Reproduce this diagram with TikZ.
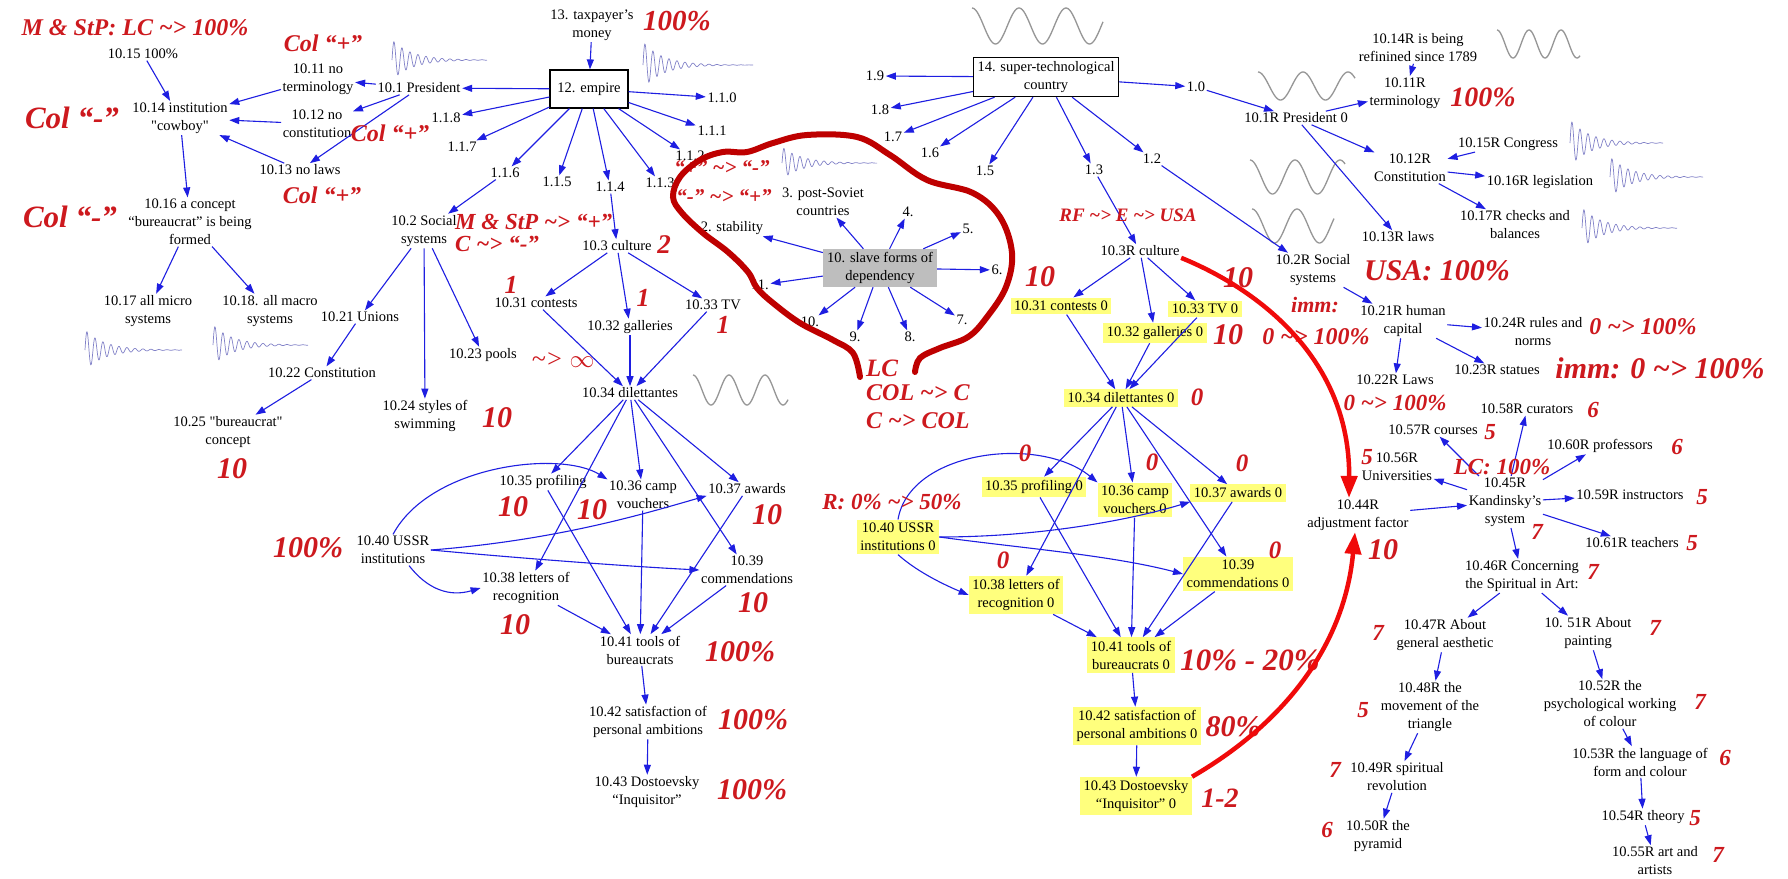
\documentclass[tikz,border=0pt]{standalone}
\usepackage{fontspec}
\setmainfont{Liberation Serif}
\usetikzlibrary{arrows.meta}

\definecolor{arrblue}{RGB}{30,30,225}
\definecolor{notered}{RGB}{205,25,30}
\definecolor{loopred}{RGB}{190,0,0}
\definecolor{arcred}{RGB}{240,10,10}
\definecolor{boxyellow}{RGB}{255,255,125}
\definecolor{boxgray}{RGB}{190,190,190}
\definecolor{wavegray}{RGB}{150,150,150}
\definecolor{waveblue}{RGB}{130,130,200}

\newcommand{\squig}{\textasciitilde>}
\newcommand{\dq}{\textquotedbl}
% x, y of centre line, width, amplitude, period
\newcommand{\sinewave}[5]{%
  \draw[wavegray, line width=1.3pt] plot[domain=0:#3, samples=100, smooth, variable=\t]
    ({#1+\t}, {#2-#4*cos(\t/#5*360)});}
\newcommand{\dampwave}[4]{%
  \draw[waveblue, line width=0.7pt] plot[domain=0:#3, samples=300, variable=\t]
    ({#1+\t}, {#2-#4*exp(-\t/20)*sin(\t*45)});}

\tikzset{
  txt/.style={font=\fontsize{14.5}{18}\selectfont, align=center, inner sep=1.5pt},
  ybox/.style={txt, fill=boxyellow, inner sep=3.5pt},
  gbox/.style={txt, fill=boxgray, minimum width=114pt, minimum height=38pt, inner sep=2pt},
  wbox/.style={txt, draw, line width=1.2pt, fill=white, inner sep=4pt},
  rnote/.style={text=notered, font=\bfseries\itshape\fontsize{#1}{#1}\selectfont, inner sep=0pt},
  rnote/.default=23,
  rthin/.style={text=notered, font=\itshape\fontsize{26}{26}\selectfont, inner sep=0pt},
  arr/.style={arrblue, line width=1.1pt, -{Triangle[length=10pt,width=7pt]}},
  redarc/.style={arcred, line width=4.5pt, -{Triangle[length=22pt,width=16pt]}},
  redloop/.style={loopred, line width=6pt, line cap=round},
}

\begin{document}
\begin{tikzpicture}[x=1pt, y=-1pt]
    \useasboundingbox (0,0) rectangle (1788,878);
    \fill[white] (0,0) rectangle (1788,878);

    % waves
    \sinewave{972}{26}{131}{18}{47}
    \sinewave{693}{390}{95}{15}{36}
    \sinewave{1258}{86}{97}{14}{45}
    \sinewave{1250}{177}{95}{17}{45}
    \sinewave{1252}{226}{82}{17}{45}
    \sinewave{1497}{44}{83}{14}{32}
    \dampwave{392}{60}{95}{20}
    \dampwave{643}{65}{110}{23}
    \dampwave{782}{163}{95}{16}
    \dampwave{85}{350}{97}{20}
    \dampwave{213}{345}{95}{20}
    \dampwave{1570}{143}{93}{23}
    \dampwave{1610}{177}{93}{20}
    \dampwave{1582}{228}{95}{20}

    % left part: empire
    \node[txt] (n13) at (592,25) {13. taxpayer's\\money};
    \node[wbox, minimum width=78pt, minimum height=38pt] (n12) at (589,89) {12. empire};
    \node[txt] (n110) at (722,98) {1.1.0};
    \node[txt] (n111) at (712,131) {1.1.1};
    \node[txt] (n112) at (690,156) {1.1.2};
    \node[txt] (n113) at (660,183) {1.1.3};
    \node[txt] (n114) at (610,187) {1.1.4};
    \node[txt] (n115) at (557,182) {1.1.5};
    \node[txt] (n116) at (505,173) {1.1.6};
    \node[txt] (n117) at (462,147) {1.1.7};
    \node[txt] (n118) at (446,118) {1.1.8};
    \node[txt] (n101) at (419,88) {10.1 President};
    \node[txt] (n1011) at (318,79) {10.11 no\\terminology};
    \node[txt] (n1012) at (317,124) {10.12 no\\constitution};
    \node[txt] (n1013) at (300,170) {10.13 no laws};
    \node[txt] (n1015) at (143,54) {10.15 100\%};
    \node[txt] (n1014) at (180,118) {10.14 institution\\\dq{}cowboy\dq};
    \node[txt] (n1016) at (190,222) {10.16 a concept\\“bureaucrat” is being\\formed};
    \node[txt] (n1017) at (148,311) {10.17 all micro\\systems};
    \node[txt] (n1018) at (270,311) {10.18. all macro\\systems};
    \node[txt] (n102) at (424,231) {10.2 Social\\systems};
    \node[txt] (n1021) at (360,317) {10.21 Unions};
    \node[txt] (n1022) at (322,373) {10.22 Constitution};
    \node[txt] (n1025) at (228,432) {10.25 \dq{}bureaucrat\dq\\concept};
    \node[txt] (n1024) at (425,416) {10.24 styles of\\swimming};
    \node[txt] (n1023) at (483,355) {10.23 pools};
    \node[txt] (n103) at (617,246) {10.3 culture};
    \node[txt] (n1031) at (536,303) {10.31 contests};
    \node[txt] (n1032) at (630,327) {10.32 galleries};
    \node[txt] (n1033) at (713,305) {10.33 TV};
    \node[txt] (n1034) at (630,393) {10.34 dilettantes};
    \node[txt] (n1035) at (543,482) {10.35 profiling};
    \node[txt] (n1036) at (643,495) {10.36 camp\\vouchers};
    \node[txt] (n1037) at (747,489) {10.37 awards};
    \node[txt] (n1040) at (393,550) {10.40 USSR\\institutions};
    \node[txt] (n1038) at (526,588) {10.38 letters of\\recognition};
    \node[txt] (n1039) at (747,570) {10.39\\commendations};
    \node[txt] (n1041) at (640,650) {10.41 tools of\\bureaucrats};
    \node[txt] (n1042) at (648,722) {10.42 satisfaction of\\personal ambitions};
    \node[txt] (n1043) at (647,792) {10.43 Dostoevsky\\“Inquisitor”};

    % middle cluster
    \node[gbox] (n10) at (880,268) {10. slave forms of\\dependency};
    \node[txt] (n3) at (823,202) {3. post-Soviet\\countries};
    \node[txt] (n2) at (732,228) {2. stability};
    \node[txt] (c4) at (908,212) {4.};
    \node[txt] (c5) at (968,229) {5.};
    \node[txt] (c6) at (997,270) {6.};
    \node[txt] (c7) at (962,320) {7.};
    \node[txt] (c8) at (910,337) {8.};
    \node[txt] (c9) at (855,337) {9.};
    \node[txt] (c10) at (810,322) {10.};
    \node[txt] (c11) at (760,285) {11.};

    % right part: super-technological country
    \node[wbox] (n14) at (1046,77) {14. super-technological\\country};
    \node[txt] (r19) at (875,76) {1.9};
    \node[txt] (r18) at (880,110) {1.8};
    \node[txt] (r17) at (893,137) {1.7};
    \node[txt] (r16) at (930,153) {1.6};
    \node[txt] (r15) at (985,171) {1.5};
    \node[txt] (r13) at (1094,170) {1.3};
    \node[txt] (r12) at (1152,159) {1.2};
    \node[txt] (r10) at (1196,87) {1.0};
    \node[txt] (r101) at (1296,118) {10.1R President 0};
    \node[txt] (r1014) at (1418,48) {10.14R is being\\refinined since 1789};
    \node[txt] (r1011) at (1405,93) {10.11R\\terminology};
    \node[txt] (r1012) at (1410,168) {10.12R\\Constitution};
    \node[txt] (r1015) at (1508,144) {10.15R Congress};
    \node[txt] (r1016) at (1540,182) {10.16R legislation};
    \node[txt] (r1017) at (1515,225) {10.17R checks and\\balances};
    \node[txt] (r1013) at (1398,237) {10.13R laws};
    \node[txt] (r103) at (1140,251) {10.3R culture};
    \node[txt] (r102) at (1313,270) {10.2R Social\\systems};
    \node[ybox] (r1031) at (1061,306) {10.31 contests 0};
    \node[ybox] (r1033) at (1205,309) {10.33 TV 0};
    \node[ybox] (r1032) at (1155,333) {10.32 galleries 0};
    \node[ybox] (r1034) at (1121,398) {10.34 dilettantes 0};
    \node[ybox] (r1035) at (1034,487) {10.35 profiling 0};
    \node[ybox] (r1036) at (1135,500) {10.36 camp\\vouchers 0};
    \node[ybox] (r1037) at (1238,493) {10.37 awards 0};
    \node[ybox] (r1040) at (898,537) {10.40 USSR\\institutions 0};
    \node[ybox] (r1038) at (1016,595) {10.38 letters of\\recognition 0};
    \node[ybox] (r1039) at (1238,574) {10.39\\commendations 0};
    \node[ybox] (r1041) at (1131,655) {10.41 tools of\\bureaucrats 0};
    \node[ybox] (r1042) at (1137,726) {10.42 satisfaction of\\personal ambitions 0};
    \node[ybox] (r1043) at (1136,796) {10.43 Dostoevsky\\“Inquisitor” 0};
    \node[txt] (r1021) at (1403,321) {10.21R human\\capital};
    \node[txt] (r1024) at (1533,332) {10.24R rules and\\norms};
    \node[txt] (r1022) at (1395,380) {10.22R Laws};
    \node[txt] (r1023) at (1497,370) {10.23R statues};
    \node[txt] (r1058) at (1527,409) {10.58R curators};
    \node[txt] (r1057) at (1433,430) {10.57R courses};
    \node[txt] (r1060) at (1600,446) {10.60R professors};
    \node[txt] (r1056) at (1397,467) {10.56R\\Universities};
    \node[txt] (r1045) at (1505,502) {10.45R\\Kandinsky's\\system};
    \node[txt] (r1059) at (1630,495) {10.59R instructors};
    \node[txt] (r1044) at (1358,515) {10.44R\\adjustment factor};
    \node[txt] (r1061) at (1632,543) {10.61R teachers};
    \node[txt] (r1046) at (1522,576) {10.46R Concerning\\the Spiritual in Art:};
    \node[txt] (r1047) at (1445,635) {10.47R About\\general aesthetic};
    \node[txt] (r1051) at (1588,633) {10. 51R About\\painting};
    \node[txt] (r1048) at (1430,707) {10.48R the\\movement of the\\triangle};
    \node[txt] (r1052) at (1610,704) {10.52R the\\psychological working\\of colour};
    \node[txt] (r1049) at (1397,777) {10.49R spiritual\\revolution};
    \node[txt] (r1053) at (1640,762) {10.53R the language of\\form and colour};
    \node[txt] (r1050) at (1378,836) {10.50R the\\pyramid};
    \node[txt] (r1054) at (1643,817) {10.54R theory};
    \node[txt] (r1055) at (1655,861) {10.55R art and\\artists};

    % arrows, left
    \draw[arr] (n13) -- (n12);
    \draw[arr] (n12) -- (n101);
    \draw[arr] (n12) -- (n118);
    \draw[arr] (n12) -- (n117);
    \draw[arr] (n12) -- (n116);
    \draw[arr] (n12) -- (n115);
    \draw[arr] (n12) -- (n114);
    \draw[arr] (n12) -- (n113);
    \draw[arr] (n12) -- (n112);
    \draw[arr] (n12) -- (n111);
    \draw[arr] (n12) -- (n110);
    \draw[arr] (n101) -- (n1011);
    \draw[arr] (n101) -- (n1012);
    \draw[arr] (n101) -- (n1013);
    \draw[arr] (n1011) -- (n1014);
    \draw[arr] (n1012) -- (n1014);
    \draw[arr] (n1013) -- (n1014);
    \draw[arr] (n1015) -- (n1014);
    \draw[arr] (n1014) -- (n1016);
    \draw[arr] (n1016) -- (n1017);
    \draw[arr] (n1016) -- (n1018);
    \draw[arr] (n116) -- (n102);
    \draw[arr] (n102) -- (n1021);
    \draw[arr] (n102) -- (n1024);
    \draw[arr] (n102) -- (n1023);
    \draw[arr] (n1021) -- (n1022);
    \draw[arr] (n1022) -- (n1025);
    \draw[arr] (n114) -- (n103);
    \draw[arr] (n103) -- (n1031);
    \draw[arr] (n103) -- (n1032);
    \draw[arr] (n103) -- (n1033);
    \draw[arr] (n1031) -- (n1034);
    \draw[arr] (n1032) -- (n1034);
    \draw[arr] (n1033) -- (n1034);
    \draw[arr] (n1034) -- (n1035);
    \draw[arr] (n1034) -- (n1036);
    \draw[arr] (n1034) -- (n1037);
    \draw[arr] (n1034) -- (n1038);
    \draw[arr] (n1034) -- (n1039);
    \draw[arr] (n1035) -- (n1041);
    \draw[arr] (n1036) -- (n1041);
    \draw[arr] (n1037) -- (n1041);
    \draw[arr] (n1038) -- (n1041);
    \draw[arr] (n1039) -- (n1041);
    \draw[arr] (n1040.north) .. controls (430,465) and (560,450) .. (n1036.north west);
    \draw[arr] (n1040.east) .. controls (560,540) and (650,512) .. (n1037.south west);
    \draw[arr] (n1040.east) .. controls (540,560) and (640,567) .. (n1039.west);
    \draw[arr] ([xshift=16pt]n1040.south) .. controls (428,590) and (450,597) .. (n1038.west);
    \draw[arr] (n1041) -- (n1042);
    \draw[arr] (n1042) -- (n1043);

    % arrows, cluster
    \draw[arr] (n10) -- (n2);
    \draw[arr] (n10) -- (n3);
    \draw[arr] (n10) -- (c4);
    \draw[arr] (n10) -- (c5);
    \draw[arr] (n10) -- (c6);
    \draw[arr] (n10) -- (c7);
    \draw[arr] (n10) -- (c8);
    \draw[arr] (n10) -- (c9);
    \draw[arr] (n10) -- (c10);
    \draw[arr] (n10) -- (c11);

    % arrows, right
    \draw[arr] (n14) -- (r19);
    \draw[arr] (n14) -- (r18);
    \draw[arr] (n14) -- (r17);
    \draw[arr] (n14) -- (r16);
    \draw[arr] (n14) -- (r15);
    \draw[arr] (n14) -- (r13);
    \draw[arr] (n14) -- (r12);
    \draw[arr] (n14) -- (r10);
    \draw[arr] (r10) -- (r101);
    \draw[arr] (r101) -- (r1011);
    \draw[arr] (r101) -- (r1012);
    \draw[arr] (r101) -- (r1013);
    \draw[arr] (r1014) -- (r1011);
    \draw[arr] (r1015) -- (r1012);
    \draw[arr] (r1012) -- (r1016);
    \draw[arr] (r1012) -- (r1017);
    \draw[arr] (r13) -- (r103);
    \draw[arr] (r12) -- (r102);
    \draw[arr] (r103) -- (r1031);
    \draw[arr] (r103) -- (r1032);
    \draw[arr] (r103) -- (r1033);
    \draw[arr] (r1031) -- (r1034);
    \draw[arr] (r1032) -- (r1034);
    \draw[arr] (r1033) -- (r1034);
    \draw[arr] (r1034) -- (r1035);
    \draw[arr] (r1034) -- (r1036);
    \draw[arr] (r1034) -- (r1037);
    \draw[arr] (r1034) -- (r1038);
    \draw[arr] (r1034) -- (r1039);
    \draw[arr] (r1035) -- (r1041);
    \draw[arr] (r1036) -- (r1041);
    \draw[arr] (r1037) -- (r1041);
    \draw[arr] (r1038) -- (r1041);
    \draw[arr] (r1039) -- (r1041);
    \draw[arr] (r1040.north) .. controls (910,450) and (1040,435) .. (r1036.north west);
    \draw[arr] (r1040.east) .. controls (1040,537) and (1130,520) .. (r1037.south west);
    \draw[arr] (r1040.east) .. controls (1020,548) and (1110,555) .. (r1039.west);
    \draw[arr] (r1040.south) .. controls (915,570) and (940,583) .. (r1038.west);
    \draw[arr] (r1041) -- (r1042);
    \draw[arr] (r1042) -- (r1043);
    \draw[arr] (r102) -- (r1021);
    \draw[arr] (r1021) -- (r1024);
    \draw[arr] (r1021) -- (r1023);
    \draw[arr] (r1021) -- (r1022);
    \draw[arr] (r1044) -- (r1045);
    \draw[arr] (r1045) -- (r1056);
    \draw[arr] (r1045) -- (r1057);
    \draw[arr] (r1045) -- (r1058);
    \draw[arr] (r1045) -- (r1060);
    \draw[arr] (r1045) -- (r1059);
    \draw[arr] (r1045) -- (r1061);
    \draw[arr] (r1045) -- (r1046);
    \draw[arr] (r1046) -- (r1047);
    \draw[arr] (r1046) -- (r1051);
    \draw[arr] (r1047) -- (r1048);
    \draw[arr] (r1048) -- (r1049);
    \draw[arr] (r1049) -- (r1050);
    \draw[arr] (r1051) -- (r1052);
    \draw[arr] (r1052) -- (r1053);
    \draw[arr] (r1053) -- (r1054);
    \draw[arr] (r1054) -- (r1055);

    % red notes, left
    \node[rnote=24] (mA) at (135,28) {M \& StP: LC \squig{} 100\%};
    \node[rnote=24] (mB) at (323,43) {Col “+”};
    \node[rnote=31] (mC) at (72,118) {Col “-”};
    \node[rnote=24] (mD) at (390,133) {Col “+”};
    \node[rnote=24] (mE) at (322,195) {Col “+”};
    \node[rnote=31] (mF) at (70,217) {Col “-”};
    \node[rnote=29] (mG) at (677,21) {100\%};
    \node[rnote, anchor=west] (mH) at (455,222) {M \& StP \squig{} “+”};
    \node[rnote, anchor=west] (mI) at (455,244) {C \squig{} “-”};
    \node[rnote=27] (mJ) at (664,245) {2};
    \node[rnote=26] (mK) at (511,285) {1};
    \node[rnote=26] (mL) at (643,298) {1};
    \node[rnote=26] (mM) at (723,325) {1};
    \node[rthin] (mN) at (563,360) {\squig{} $\infty$};
    \node[rnote=30] (mO) at (497,418) {10};
    \node[rnote=30] (mP) at (232,469) {10};
    \node[rnote=30] (mQ) at (308,548) {100\%};
    \node[rnote=30] (mR) at (513,507) {10};
    \node[rnote=30] (mS) at (592,510) {10};
    \node[rnote=30] (mT) at (767,515) {10};
    \node[rnote=30] (mU) at (515,625) {10};
    \node[rnote=30] (mV) at (753,603) {10};
    \node[rnote=30] (mW) at (740,652) {100\%};
    \node[rnote=30] (mX) at (753,720) {100\%};
    \node[rnote=30] (mY) at (752,790) {100\%};

    % red notes, cluster
    \node[rnote=21] (mZ) at (722,168) {“+” \squig{} “-”};
    \node[rnote=21] (mAa) at (724,197) {“-” \squig{} “+”};
    \node[rnote=25, anchor=west] (mAb) at (866,368) {LC};
    \node[rnote=24, anchor=west] (mAc) at (866,393) {COL \squig{} C};
    \node[rnote=24, anchor=west] (mAd) at (866,421) {C \squig{} COL};

    % red notes, right
    \node[rnote=19] (mAe) at (1128,215) {RF \squig{} E \squig{} USA};
    \node[rnote=30] (mAf) at (1040,277) {10};
    \node[rnote=30] (mAg) at (1238,278) {10};
    \node[rnote=30] (mAh) at (1228,335) {10};
    \node[rnote=25] (mAi) at (1197,397) {0};
    \node[rnote=25] (mAj) at (1025,453) {0};
    \node[rnote=25] (mAk) at (1152,462) {0};
    \node[rnote=25] (mAl) at (1242,463) {0};
    \node[rnote=25] (mAm) at (1003,560) {0};
    \node[rnote=25] (mAn) at (1275,550) {0};
    \node[rnote] (mAo) at (892,502) {R: 0\% \squig{} 50\%};
    \node[rnote=31] (mAp) at (1250,660) {10\% - 20\%};
    \node[rnote=30] (mAq) at (1233,727) {80\%};
    \node[rnote=28] (mAr) at (1220,798) {1-2};
    \node[rnote=28] (mAs) at (1483,97) {100\%};
    \node[rnote=30] (mAt) at (1437,271) {USA: 100\%};
    \node[rnote=22] (mAu) at (1315,305) {imm:};
    \node[rnote=24] (mAv) at (1316,337) {0 \squig{} 100\%};
    \node[rnote=24] (mAw) at (1643,327) {0 \squig{} 100\%};
    \node[rnote=30] (mAx) at (1660,368) {imm: 0 \squig{} 100\%};
    \node[rnote] (mAy) at (1395,403) {0 \squig{} 100\%};
    \node[rnote] (mAz) at (1502,467) {LC: 100\%};
    \node[rnote=30] (mBa) at (1383,550) {10};
    \node[rnote] (mBb) at (1593,410) {6};
    \node[rnote] (mBc) at (1490,432) {5};
    \node[rnote] (mBd) at (1677,447) {6};
    \node[rnote] (mBe) at (1367,457) {5};
    \node[rnote] (mBf) at (1702,497) {5};
    \node[rnote] (mBg) at (1537,532) {7};
    \node[rnote] (mBh) at (1692,543) {5};
    \node[rnote] (mBi) at (1593,572) {7};
    \node[rnote] (mBj) at (1378,633) {7};
    \node[rnote] (mBk) at (1655,628) {7};
    \node[rnote] (mBl) at (1363,710) {5};
    \node[rnote] (mBm) at (1700,702) {7};
    \node[rnote] (mBn) at (1335,770) {7};
    \node[rnote] (mBo) at (1725,758) {6};
    \node[rnote] (mBp) at (1327,830) {6};
    \node[rnote] (mBq) at (1695,818) {5};
    \node[rnote] (mBr) at (1718,855) {7};

    % the loop round the cluster
    \draw[redloop] plot[smooth, tension=0.6] coordinates {(860,377) (853,353) (833,340)
        (800,323) (773,303) (757,288) (748,272) (728,252) (703,233) (682,213) (673,197)
        (680,177) (700,160) (723,152) (747,152) (773,143) (807,135) (857,137) (890,155)
        (927,180) (973,193) (1000,217) (1012,253) (1006,287) (987,317) (968,337)
        (940,348) (920,358) (915,372)};

    % red arcs to 10.44R
    \draw[redarc] (r103.south east) .. controls (1260,290) and (1350,360) .. ([xshift=-9pt]r1044.north);
    \draw[redarc] (r1043.north east) .. controls (1290,720) and (1345,640) .. ([xshift=-3pt]r1044.south);
\end{tikzpicture}
\end{document}
